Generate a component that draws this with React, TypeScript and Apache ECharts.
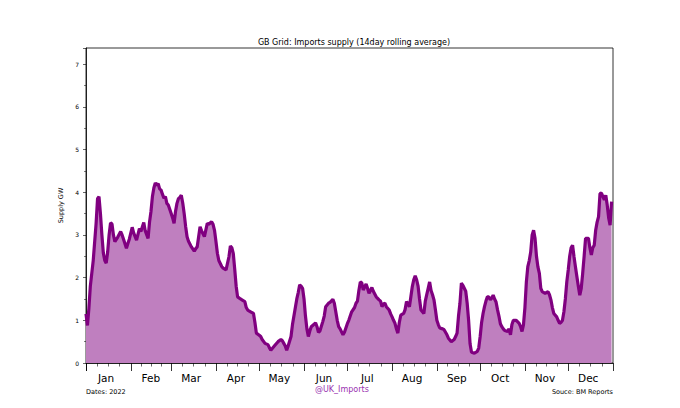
import React, { useEffect, useRef } from "react";
import * as echarts from "echarts";

const MONTHS = ["Jan", "Feb", "Mar", "Apr", "May", "Jun", "Jul", "Aug", "Sep", "Oct", "Nov", "Dec"];

// day of year (0 = 1 Jan 2022)
const DAYS = [
  0, 1, 2, 3, 5, 7, 8, 9, 10, 11, 12, 13, 14, 15, 16, 17, 18, 19, 20, 22, 24, 25, 26, 28, 29, 30,
  32, 33, 35, 37, 38, 40, 41, 43, 44, 45, 46, 47, 48, 49, 50, 51, 52, 53, 54, 55, 56, 57, 58, 59,
  60, 61, 62, 63, 64, 65, 66, 67, 68, 69, 70, 71, 73, 75, 76, 77, 79, 80, 82, 84, 85, 87, 88, 89,
  90, 91, 92, 94, 95, 97, 99, 100, 101, 102, 103, 104, 105, 107, 108, 110, 111, 112, 114, 116, 117,
  118, 120, 121, 122, 124, 126, 127, 128, 130, 131, 133, 135, 136, 137, 138, 139, 140, 142, 143,
  145, 146, 147, 148, 149, 150, 151, 152, 153, 154, 155, 156, 157, 159, 160, 161, 162, 164, 165,
  166, 168, 169, 171, 172, 173, 174, 175, 176, 178, 179, 181, 182, 184, 186, 187, 188, 189, 190,
  191, 192, 193, 194, 195, 196, 197, 198, 199, 201, 203, 204, 205, 206, 207, 208, 210, 211, 212,
  213, 214, 215, 216, 217, 218, 220, 221, 222, 224, 225, 226, 227, 228, 229, 230, 231, 232, 233,
  234, 235, 236, 237, 238, 239, 240, 241, 242, 243, 244, 245, 247, 248, 249, 250, 251, 253, 255,
  256, 257, 258, 259, 260, 261, 262, 263, 264, 265, 266, 267, 269, 271, 272, 273, 274, 275, 276,
  277, 278, 279, 280, 281, 282, 283, 284, 285, 286, 287, 288, 289, 290, 292, 293, 294, 295, 296,
  298, 300, 301, 302, 303, 304, 305, 306, 307, 308, 309, 310, 311, 312, 313, 314, 315, 316, 318,
  320, 321, 322, 323, 324, 326, 327, 328, 329, 330, 331, 332, 333, 334, 335, 336, 337, 338, 339,
  340, 341, 342, 343, 344, 345, 346, 348, 349, 350, 351, 352, 353, 354, 355, 356, 357, 358, 359,
  360, 361, 362, 363, 364,
];

// 14-day rolling average import supply, GW
const SUPPLY = [
  1.15, 0.88, 1.28, 1.8, 2.4, 3.27, 3.85, 3.9, 3.5, 3.0, 2.58, 2.4, 2.34, 2.6, 3.0, 3.28, 3.26, 3.0, 2.84, 2.95, 3.08, 3.0, 2.9, 2.69, 2.8, 2.9,
  3.18, 3.05, 2.88, 3.15, 3.08, 3.29, 3.1, 2.92, 3.3, 3.55, 3.9, 4.1, 4.22, 4.17, 4.2, 4.08, 4.05, 3.95, 3.86, 3.9, 3.74, 3.7, 3.6, 3.5,
  3.4, 3.27, 3.55, 3.74, 3.85, 3.88, 3.93, 3.75, 3.5, 3.2, 2.96, 2.85, 2.72, 2.62, 2.68, 2.72, 3.19, 3.1, 2.96, 3.27, 3.25, 3.31, 3.25, 3.11,
  2.85, 2.57, 2.4, 2.26, 2.22, 2.18, 2.49, 2.74, 2.7, 2.57, 2.2, 1.8, 1.55, 1.5, 1.48, 1.44, 1.3, 1.24, 1.2, 1.16, 0.95,
  0.7, 0.65, 0.62, 0.55, 0.46, 0.43, 0.36, 0.3, 0.38, 0.42, 0.5, 0.55, 0.52, 0.46, 0.4, 0.3, 0.4, 0.62, 0.9,
  1.3, 1.5, 1.65, 1.83, 1.8, 1.75, 1.5, 1.1, 0.8, 0.62, 0.75, 0.85, 0.88, 0.94, 0.85, 0.72, 0.75, 0.97, 1.1,
  1.32, 1.4, 1.42, 1.49, 1.4, 1.2, 1.0, 0.85, 0.8, 0.66, 0.72, 0.92, 1.0, 1.2, 1.3, 1.4, 1.45, 1.7, 1.9,
  1.88, 1.71, 1.78, 1.85, 1.75, 1.63, 1.7, 1.77, 1.68, 1.55, 1.48, 1.45, 1.32, 1.38, 1.4, 1.32, 1.24, 1.15, 1.08,
  1.0, 0.93, 0.8, 0.7, 0.95, 1.12, 1.16, 1.25, 1.44, 1.32, 1.55, 1.79, 1.95, 2.04, 1.95, 1.8, 1.5, 1.24, 1.2,
  1.16, 1.45, 1.6, 1.75, 1.9, 1.7, 1.6, 1.48, 1.25, 1.0, 0.9, 0.82, 0.8, 0.78, 0.72, 0.66, 0.58, 0.5, 0.55,
  0.62, 0.7, 1.1, 1.4, 1.87, 1.82, 1.75, 1.68, 1.4, 1.0, 0.45, 0.25, 0.23, 0.27, 0.35, 0.62, 0.95, 1.16, 1.32,
  1.45, 1.55, 1.55, 1.48, 1.52, 1.59, 1.5, 1.43, 1.25, 1.1, 0.92, 0.85, 0.8, 0.76, 0.74, 0.8, 0.66, 0.9, 1.0,
  1.0, 0.93, 0.85, 0.74, 0.9, 1.3, 1.9, 2.26, 2.4, 2.6, 3.0, 3.11, 2.92, 2.5, 2.25, 2.1, 1.75, 1.67, 1.63,
  1.67, 1.6, 1.48, 1.3, 1.16, 1.08, 1.0, 0.93, 0.95, 1.0, 1.2, 1.5, 1.9, 2.18, 2.5, 2.7, 2.76, 2.49, 2.25,
  2.02, 1.8, 1.59, 1.75, 2.1, 2.5, 2.92, 2.92, 2.7, 2.53, 2.7, 2.76, 3.11, 3.3, 3.43, 3.97, 3.98, 3.9, 3.82,
  3.93, 3.7, 3.4, 3.23, 3.78,
];

const Y_TICKS = [0, 1, 2, 3, 4, 5, 6, 7];

const DAY_MS = 86400000;
const START = Date.UTC(2022, 0, 1);
const END = Date.UTC(2023, 0, 1);

export default function App() {
  const ref = useRef<HTMLDivElement>(null);
  useEffect(() => {
    if (!ref.current) return;
    const chart = echarts.init(ref.current, undefined, { renderer: "svg" });
    const data = DAYS.map((d, i) => [START + d * DAY_MS, SUPPLY[i]]);
    const font = "DejaVu Sans";
    chart.setOption({
      animation: false,
      useUTC: true,
      backgroundColor: "#ffffff",
      textStyle: { fontFamily: font },
      title: {
        text: "GB Grid: Imports supply (14day rolling average)",
        left: 349,
        textAlign: "center",
        top: 33,
        textStyle: { fontSize: 8, fontWeight: "normal", color: "#000", fontFamily: font },
      },
      grid: {
        left: 86,
        right: 67,
        top: 48,
        bottom: 45,
        show: true,
        borderColor: "#000",
        borderWidth: 0.8,
        backgroundColor: "transparent",
      },
      xAxis: {
        type: "time",
        min: START,
        max: END,
        splitNumber: 12,
        minInterval: 28 * DAY_MS,
        maxInterval: 31 * DAY_MS,
        axisLine: { show: true, lineStyle: { color: "#000", width: 0.8 } },
        axisTick: { show: true, length: 8, lineStyle: { color: "#000", width: 0.8 } },
        minorTick: { show: true, splitNumber: 4, length: 3.5, lineStyle: { color: "#000", width: 0.6 } },
        splitLine: { show: false },
        axisLabel: {
          showMaxLabel: false,
          hideOverlap: false,
          fontSize: 10.5,
          color: "#000",
          fontFamily: font,
          margin: 9,
          align: "center",
          padding: [0, 0, 0, 40],
          formatter: (v: number) => MONTHS[new Date(v).getUTCMonth()],
        },
      },
      yAxis: {
        type: "value",
        min: 0,
        max: 7.38,
        interval: 1,
        name: "Supply GW",
        nameLocation: "middle",
        nameGap: 20,
        nameTextStyle: { fontSize: 6.5, color: "#000", fontFamily: font },
        axisLine: { show: true, lineStyle: { color: "#000", width: 0.8 } },
        axisTick: { show: true, length: 3, lineStyle: { color: "#000", width: 0.6 } },
        minorTick: { show: true, splitNumber: 2, length: 2, lineStyle: { color: "#000", width: 0.5 } },
        splitLine: { show: false },
        axisLabel: {
          fontSize: 6,
          color: "#000",
          fontFamily: font,
          margin: 7,
          showMaxLabel: false,
          formatter: (v: number) => (Y_TICKS.includes(v) ? String(v) : ""),
        },
      },
      graphic: [
        {
          type: "text",
          left: 86,
          top: 388,
          style: { text: "Dates: 2022", fontSize: 6.5, fill: "#000", fontFamily: font },
        },
        {
          type: "text",
          right: 67,
          top: 388,
          style: { text: "Souce: BM Reports", fontSize: 6.5, fill: "#000", fontFamily: font },
        },
        {
          type: "text",
          left: 315,
          top: 385,
          style: { text: "@UK_Imports", fontSize: 8, fill: "#9932b0", fontFamily: font },
        },
      ],
      series: [
        {
          type: "line",
          data,
          showSymbol: false,
          smooth: false,
          lineStyle: { color: "#800080", width: 3.2 },
          areaStyle: { color: "#bf7fbf", opacity: 1 },
          z: 2,
        },
      ],
    });
    return () => chart.dispose();
  }, []);
  return (
    <div
      ref={ref}
      style={{ position: "fixed", left: 0, top: 0, width: 680, height: 408, background: "#fff" }}
    />
  );
}
